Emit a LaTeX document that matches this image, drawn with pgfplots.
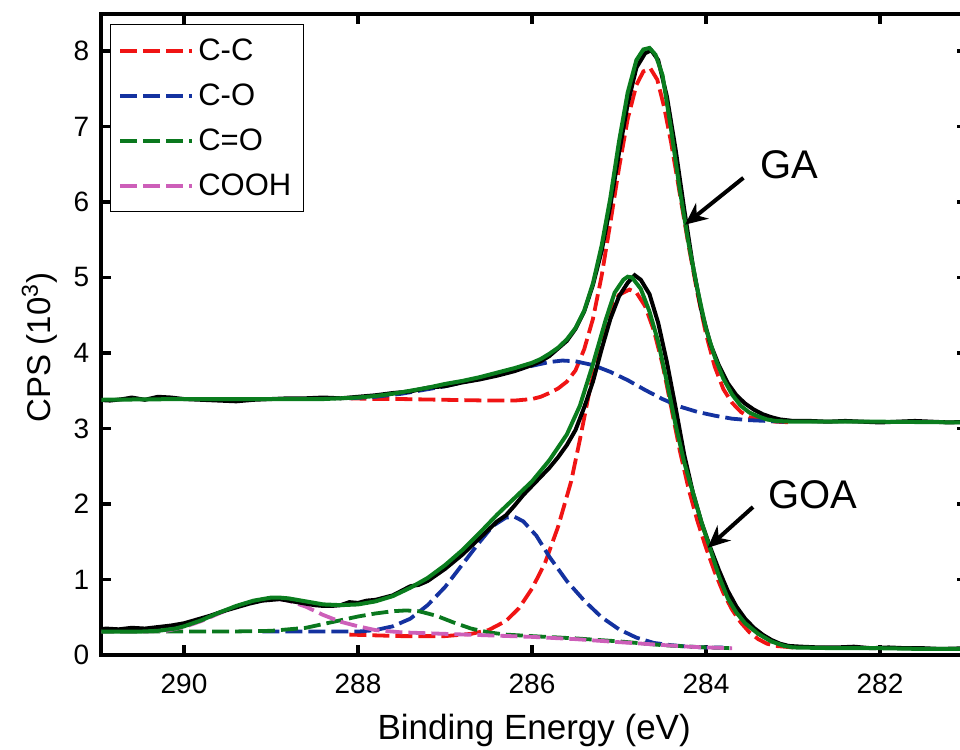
\documentclass[border=0pt]{standalone}
\usepackage{fontspec}
\setmainfont{Liberation Sans}
\usepackage{pgfplots}
\pgfplotsset{compat=1.18}
\usetikzlibrary{arrows.meta}
\definecolor{ccred}{RGB}{240,20,20}
\definecolor{coblue}{RGB}{20,50,160}
\definecolor{cogreen}{RGB}{10,120,30}
\definecolor{fitgreen}{RGB}{10,125,30}
\definecolor{cooh}{RGB}{205,95,185}
\begin{document}
\begin{tikzpicture}
\useasboundingbox (0,0) rectangle (480pt,375pt);
\begin{axis}[
  at={(50.7pt,47.5pt)}, anchor=south west, scale only axis,
  width=432.8pt, height=320.5pt,
  x dir=reverse, xmin=281, xmax=290.95, ymin=0, ymax=8.49,
  xtick={282,284,286,288,290}, ytick={0,1,2,3,4,5,6,7,8},
  axis line style={line width=2pt},
  tick style={line width=1.6pt, black},
  major tick length=5pt, tick align=inside,
  /pgf/number format/assume math mode=true,
  ticklabel style={font=\fontsize{14}{16}\selectfont},
  yticklabel style={xshift=-2.5pt},
  xticklabel style={yshift=-6pt},
  xlabel={Binding Energy (eV)},
  ylabel={CPS (10\textsuperscript{3})},
  xlabel style={font=\fontsize{17.5}{20}\selectfont, at={(rel axis cs:0.5,0)}, anchor=center, yshift=-37.5pt},
  ylabel style={font=\fontsize{16.5}{20}\selectfont, at={(rel axis cs:-0.0716,0.48)}, anchor=center},
  legend style={at={(0.0099,0.984)}, anchor=north west, draw=black, line width=0.6pt, fill=white,
    font=\fontsize{15.5}{18}\selectfont, row sep=6.5pt, inner xsep=4pt, inner ysep=5pt,
    nodes={text height=11pt, text depth=1pt, inner sep=2pt}},
  legend cell align=left,
  legend image code/.code={\draw[#1, line width=1.9pt] (0pt,0pt) -- (36pt,0pt);},
  dashstyle/.style={line width=1.9pt, dash pattern=on 8.5pt off 3pt},
]
% ---------- GOA components ----------
\addplot[ccred, dashstyle] coordinates {
(288.1,0.27) (287.5,0.25) (287.0,0.25) (286.7,0.28) (286.5,0.33) (286.3,0.45) (286.15,0.62) (286.0,0.88)
(285.85,1.22) (285.7,1.70) (285.55,2.30) (285.45,2.85) (285.33,3.55) (285.22,4.04) (285.1,4.58) (285.0,4.77)
(284.88,4.84) (284.8,4.80) (284.7,4.62) (284.6,4.30) (284.5,3.85) (284.4,3.28) (284.3,2.70) (284.2,2.20)
(284.1,1.78) (284.0,1.42) (283.9,1.10) (283.8,0.82) (283.7,0.60) (283.6,0.43) (283.5,0.30) (283.4,0.21)
(283.3,0.15) (283.2,0.12) (283.0,0.10)};
\addlegendentry{C-C}
\addplot[coblue, dashstyle] coordinates {
(289.1,0.31) (288.5,0.31) (288.0,0.31) (287.8,0.33) (287.6,0.38) (287.4,0.48) (287.2,0.66) (287.0,0.90)
(286.8,1.20) (286.6,1.50) (286.45,1.71) (286.3,1.82) (286.2,1.83) (286.1,1.77) (285.95,1.58) (285.8,1.30)
(285.6,0.98) (285.4,0.72) (285.2,0.50) (285.0,0.34) (284.8,0.23) (284.6,0.16) (284.4,0.13) (284.2,0.11)
(284.0,0.10) (283.8,0.10)};
\addlegendentry{C-O}
\addplot[cogreen, dashstyle] coordinates {
(291.0,0.31) (290.0,0.31) (289.5,0.31) (289.0,0.32) (288.6,0.36) (288.4,0.41) (288.2,0.46) (288.0,0.51)
(287.8,0.55) (287.6,0.58) (287.45,0.59) (287.3,0.58) (287.1,0.52) (286.9,0.43) (286.7,0.35) (286.5,0.30)
(286.3,0.27) (286.0,0.25) (285.5,0.22) (285.0,0.18) (284.5,0.13) (284.0,0.10) (283.7,0.09)};
\addlegendentry{C=O}
\addplot[cooh, dashstyle] coordinates {
(291.0,0.31) (290.5,0.31) (290.2,0.32) (290.0,0.37) (289.8,0.45) (289.6,0.55) (289.4,0.64) (289.2,0.71)
(289.0,0.74) (288.9,0.74) (288.8,0.72) (288.6,0.64) (288.4,0.53) (288.2,0.44) (288.0,0.38) (287.8,0.33)
(287.5,0.30) (287.0,0.28) (286.5,0.26) (286.0,0.24) (285.5,0.21) (285.0,0.17) (284.6,0.14) (284.2,0.11)
(284.0,0.10) (283.7,0.09)};
\addlegendentry{COOH\hspace{7pt}}
% ---------- GA components ----------
\addplot[ccred, dashstyle, forget plot] coordinates {
(288.1,3.40) (287.8,3.39) (287.5,3.39) (287.0,3.38) (286.5,3.37) (286.2,3.37) (286.0,3.39) (285.9,3.42)
(285.8,3.47) (285.7,3.53) (285.6,3.62) (285.5,3.77) (285.4,4.05) (285.3,4.45) (285.2,5.02) (285.1,5.72)
(285.0,6.45) (284.9,7.10) (284.8,7.55) (284.72,7.73) (284.64,7.77) (284.56,7.62) (284.48,7.25) (284.4,6.78)
(284.3,6.10) (284.2,5.42) (284.1,4.80) (284.0,4.25) (283.9,3.82) (283.8,3.52) (283.7,3.34) (283.6,3.22)
(283.5,3.15) (283.4,3.12) (283.2,3.09) (283.0,3.08)};
\addplot[coblue, dashstyle, forget plot] coordinates {
(288.1,3.40) (287.8,3.42) (287.5,3.46) (287.0,3.56) (286.5,3.69) (286.2,3.77) (286.0,3.83) (285.8,3.88)
(285.65,3.90) (285.5,3.89) (285.3,3.84) (285.1,3.75) (284.9,3.64) (284.7,3.51) (284.5,3.39) (284.3,3.29)
(284.1,3.22) (283.9,3.17) (283.7,3.13) (283.5,3.11) (283.3,3.10) (283.1,3.09)};
% ---------- GA data ----------
\addplot[black, line width=2pt, forget plot] coordinates {
(291.0,3.38) (290.85,3.37) (290.7,3.39) (290.6,3.41) (290.45,3.38) (290.3,3.42) (290.15,3.41) (290.0,3.39)
(289.8,3.38) (289.6,3.37) (289.4,3.36) (289.2,3.38) (289.0,3.39) (288.8,3.40) (288.6,3.40) (288.4,3.41)
(288.2,3.40) (288.0,3.42) (287.8,3.44) (287.6,3.47) (287.4,3.49) (287.2,3.54) (287.0,3.56) (286.8,3.61)
(286.6,3.65) (286.4,3.70) (286.2,3.76) (286.0,3.84) (285.9,3.89) (285.8,3.96) (285.7,4.06) (285.6,4.16)
(285.5,4.32) (285.4,4.55) (285.3,4.90) (285.2,5.35) (285.1,5.95) (285.0,6.65) (284.9,7.30) (284.8,7.78)
(284.7,7.97) (284.63,8.01) (284.55,7.88) (284.45,7.40) (284.35,6.70) (284.25,5.90) (284.15,5.15) (284.05,4.55)
(283.95,4.12) (283.85,3.83) (283.75,3.60) (283.65,3.44) (283.55,3.33) (283.45,3.25) (283.35,3.19) (283.25,3.15)
(283.15,3.12) (283.0,3.10) (282.8,3.10) (282.6,3.09) (282.4,3.10) (282.2,3.09) (282.0,3.08) (281.8,3.09)
(281.6,3.10) (281.4,3.09) (281.2,3.08) (281.0,3.09)};
% ---------- GA fit ----------
\addplot[fitgreen, line width=2pt, forget plot] coordinates {
(291.0,3.38) (290.0,3.39) (289.0,3.39) (288.4,3.39) (288.2,3.40) (288.0,3.41) (287.8,3.43) (287.6,3.46)
(287.4,3.50) (287.2,3.54) (287.0,3.59) (286.8,3.63) (286.6,3.68) (286.4,3.74) (286.2,3.80) (286.0,3.87)
(285.9,3.92) (285.8,3.99) (285.7,4.07) (285.6,4.18) (285.5,4.33) (285.4,4.56) (285.3,4.92) (285.2,5.42)
(285.1,6.05) (285.0,6.80) (284.9,7.45) (284.8,7.88) (284.72,8.02) (284.65,8.04) (284.58,7.95) (284.5,7.68)
(284.4,6.95) (284.3,6.15) (284.2,5.45) (284.1,4.85) (284.0,4.32) (283.9,3.95) (283.8,3.66) (283.7,3.45)
(283.6,3.30) (283.5,3.21) (283.4,3.16) (283.3,3.12) (283.2,3.10) (283.0,3.09) (282.0,3.09) (281.0,3.08)};
% ---------- GOA data ----------
\addplot[black, line width=2pt, forget plot] coordinates {
(291.0,0.33) (290.9,0.35) (290.75,0.34) (290.6,0.36) (290.45,0.35) (290.3,0.37) (290.15,0.39) (290.0,0.42)
(289.85,0.47) (289.7,0.52) (289.55,0.58) (289.4,0.63) (289.25,0.68) (289.1,0.72) (289.0,0.73) (288.9,0.74)
(288.8,0.72) (288.7,0.70) (288.6,0.68) (288.5,0.66) (288.4,0.65) (288.3,0.65) (288.2,0.66) (288.1,0.70)
(288.0,0.69) (287.9,0.72) (287.8,0.73) (287.7,0.76) (287.6,0.79) (287.5,0.85) (287.4,0.91) (287.3,0.93)
(287.2,0.98) (287.1,1.06) (287.0,1.14) (286.8,1.33) (286.6,1.55) (286.5,1.66) (286.4,1.77) (286.3,1.85)
(286.2,1.98) (286.1,2.12) (286.0,2.24) (285.9,2.36) (285.8,2.48) (285.7,2.62) (285.6,2.78) (285.5,2.98)
(285.4,3.28) (285.3,3.62) (285.2,4.05) (285.1,4.45) (285.0,4.75) (284.9,4.93) (284.82,5.03) (284.75,4.97)
(284.65,4.78) (284.55,4.40) (284.45,3.88) (284.35,3.28) (284.25,2.65) (284.15,2.15) (284.05,1.75) (283.95,1.42)
(283.85,1.12) (283.75,0.85) (283.65,0.64) (283.55,0.48) (283.45,0.36) (283.35,0.27) (283.25,0.20) (283.15,0.15)
(283.05,0.12) (282.9,0.11) (282.7,0.10) (282.5,0.10) (282.3,0.11) (282.1,0.09) (281.9,0.10) (281.7,0.09)
(281.5,0.09) (281.3,0.08) (281.0,0.09)};
% ---------- GOA fit ----------
\addplot[fitgreen, line width=2pt, forget plot] coordinates {
(291.0,0.31) (290.5,0.31) (290.3,0.32) (290.1,0.35) (290.0,0.38) (289.8,0.46) (289.6,0.56) (289.4,0.65)
(289.2,0.72) (289.0,0.76) (288.9,0.76) (288.8,0.75) (288.6,0.71) (288.4,0.67) (288.2,0.66) (288.0,0.67)
(287.8,0.71) (287.6,0.78) (287.4,0.89) (287.2,1.02) (287.0,1.19) (286.8,1.39) (286.6,1.62) (286.4,1.86)
(286.2,2.08) (286.0,2.30) (285.8,2.58) (285.6,2.92) (285.45,3.30) (285.3,3.85) (285.15,4.45) (285.05,4.80)
(284.95,4.97) (284.9,5.01) (284.85,5.00) (284.75,4.85) (284.65,4.55) (284.55,4.15) (284.45,3.62) (284.35,3.05)
(284.25,2.55) (284.15,2.15) (284.05,1.75) (283.95,1.40) (283.85,1.04) (283.75,0.75) (283.65,0.56) (283.55,0.42)
(283.4,0.28) (283.25,0.18) (283.1,0.12) (283.0,0.10) (282.5,0.09) (282.0,0.09) (281.5,0.08) (281.0,0.08)};
% ---------- annotations ----------
\node[anchor=west, inner sep=0pt, font=\fontsize{20}{24}\selectfont] at (axis cs:283.38,6.49) {GA};
\node[anchor=west, inner sep=0pt, font=\fontsize{20}{24}\selectfont] at (axis cs:283.29,2.12) {GOA};
\draw[line width=2pt, -{Stealth[length=11pt,width=10pt]}] (axis cs:283.57,6.32) -- (axis cs:284.24,5.70);
\draw[line width=2pt, -{Stealth[length=11pt,width=10pt]}] (axis cs:283.46,1.96) -- (axis cs:283.98,1.42);
\end{axis}
\end{tikzpicture}
\end{document}
